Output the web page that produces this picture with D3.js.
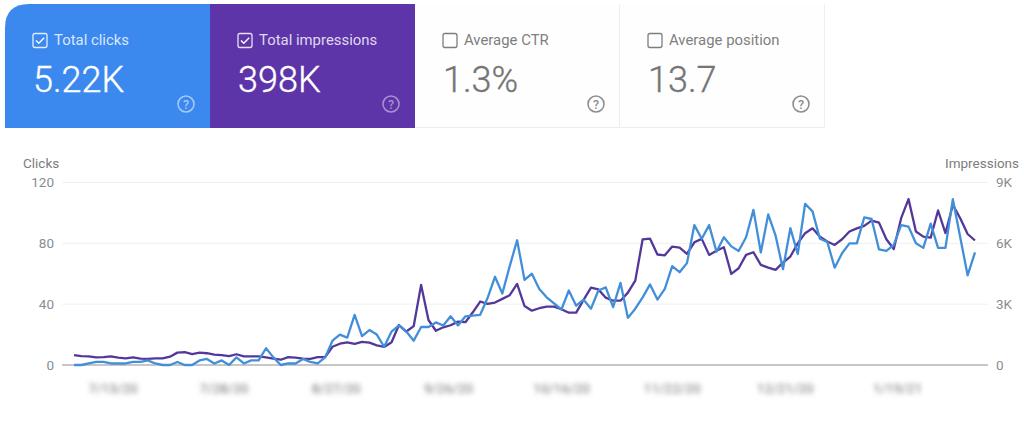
<!DOCTYPE html>
<html><head><meta charset="utf-8">
<script src="https://cdn.jsdelivr.net/npm/d3@7"></script>
<style>
html,body{margin:0;padding:0;background:#fff;overflow:hidden}
svg{display:block;font-family:Roboto,sans-serif}
</style></head><body><svg id="c" width="1024" height="434"></svg>
<script>
const cardTitles = ["Total clicks","Total impressions","Average CTR","Average position"];
const cardValues = ["5.22K","398K","1.3%","13.7"];
const cardChecked = [true,true,false,false];
const cardFills = ["#3b88ee","#5e35a8","#fefefe","#fefefe"];
const clicksTicks = [0,40,80,120];
const imprTicks = [0,3000,6000,9000];
const imprTickLabels = ["0","3K","6K","9K"];
const dateLabels = ["7/13/20","7/28/20","8/27/20","9/26/20","10/16/20","11/22/20","12/21/20","1/19/21"];
const datePositions = [5.3,20.3,35.5,50.7,66,81,96.3,111.5];
const clicks = [0,0,1,2,2,1,1,1,2,2,3,1,0,0,2,0,0,3,4,1,3,0,5,1,3,3,11,5,0,1,1,4,2,1,5,16,20,18,33,19,23,20,12,22,26,22,16,25,25,28,26,32,26,32,32.5,33,44,58,47,65,82,56,60,50,44.5,40.5,36.5,49,39,43,37,49,51,38,54,31,37,44.5,53,43,50,65,61,67,92,83,92,74.5,84,78,75,84,102,74,99,85,63,90,73,106,101,83,81,64,73.5,80,80,97,96,76,75,79,92,91,80,77,93,77,77,109,84,59,74];
const impressions = [490,440,430,380,390,430,360,330,380,310,300,330,330,410,610,630,540,610,580,510,490,440,530,430,430,430,380,310,260,390,360,310,300,390,390,900,1050,1120,1040,1140,1100,970,890,1120,1970,1650,1920,3950,2220,1690,1860,1960,2140,2110,2600,3130,3010,3080,3260,3440,4000,2910,2680,2800,2880,2880,2750,2580,2580,3210,3820,3730,3320,3170,3170,3570,4160,6200,6230,5450,5410,5840,5790,5480,6050,6220,5430,5630,5810,4490,4770,5430,5560,4940,4800,4690,5050,5350,6000,6500,6740,6330,6090,5920,6200,6580,6740,6860,7120,7020,6200,5720,7240,8180,6580,6330,6280,7620,6500,7900,7240,6460,6140];

const svg = d3.select("#c");
const defs = svg.append("defs");
defs.append("filter").attr("id","blur").attr("x","-20%").attr("y","-60%").attr("width","140%").attr("height","220%")
  .append("feGaussianBlur").attr("stdDeviation",2.6);
defs.append("filter").attr("id","soft").append("feGaussianBlur").attr("stdDeviation",0.4);

/* cards */
const cardX = d3.scaleBand().domain(d3.range(4)).range([5,825]);
const cardTop = 4, cardBottom = 128;
const cards = svg.selectAll("g.card").data(cardTitles).join("g").attr("class","card")
  .attr("transform",(d,i)=>`translate(${cardX(i)},${cardTop})`);
const w = cardX.bandwidth(), h = cardBottom-cardTop;
cards.append("path").attr("fill",(d,i)=>cardFills[i])
  .attr("d",(d,i)=> i===0 ? `M0,${h}V24Q0,0 24,0H${w}V${h}Z` : `M0,0H${w}V${h}H0Z`);
cards.filter((d,i)=>i>=2).append("path").attr("fill","none").attr("stroke","#eeeeee")
  .attr("d",`M${w-.5},0V${h-.5}H0`);
const fg = i=> cardChecked[i] ? "#fff" : "#757575";
cards.append("rect").attr("x",28).attr("y",29.5).attr("width",14).attr("height",14).attr("rx",2)
  .attr("fill","none").attr("stroke",(d,i)=>cardChecked[i]?"rgba(255,255,255,.85)":"#7d7d7d").attr("stroke-width",1.3);
cards.filter((d,i)=>cardChecked[i]).append("path").attr("d","M31,36.5l2.8,2.8l5.4,-5.6")
  .attr("fill","none").attr("stroke","#fff").attr("stroke-width",1.4);
cards.append("text").attr("x",49).attr("y",41).attr("font-size",14.9)
  .attr("fill",(d,i)=>cardChecked[i]?"rgba(255,255,255,.82)":"#808080").text(d=>d);
cards.append("text").attr("x",28).attr("y",88).attr("font-size",36).attr("font-weight",300)
  .attr("stroke",(d,i)=>fg(i)).attr("stroke-width",0.35)
  .attr("fill",(d,i)=>fg(i)).text((d,i)=>cardValues[i]);
cards.each(function(d,i){
  const g = d3.select(this).append("g").attr("transform","translate(181,100)");
  const col = i===0?"rgba(255,255,255,.55)":i===1?"rgba(255,255,255,.45)":"#8f8f8f";
  g.append("circle").attr("r",8).attr("fill","none").attr("stroke",col).attr("stroke-width",1.6);
  g.append("text").attr("text-anchor","middle").attr("y",4.5).attr("font-size",12.5).attr("font-weight",500).attr("fill",col).text("?");
});

/* chart */
const x = d3.scaleLinear().domain([0,clicks.length-1]).range([74,975]);
const yL = d3.scaleLinear().domain([0,120]).range([365,182.5]);
const yR = d3.scaleLinear().domain([0,9000]).range([365,182.5]);
const gridL = 62, gridR = 988;

const axisL = svg.append("g").attr("transform",`translate(${gridL},0)`)
  .call(d3.axisLeft(yL).tickValues(clicksTicks).tickSize(0).tickPadding(8));
const axisR = svg.append("g").attr("transform",`translate(${gridR},0)`)
  .call(d3.axisRight(yR).tickValues(imprTicks).tickFormat((d,i)=>imprTickLabels[i]).tickSize(0).tickPadding(8));
[axisL,axisR].forEach(a=>{
  a.select(".domain").remove();
  a.selectAll("text").attr("font-family","Roboto,sans-serif").attr("font-size",13.5).attr("fill","#8a8d90");
});
svg.append("g").selectAll("line").data(clicksTicks).join("line")
  .attr("x1",gridL).attr("x2",gridR).attr("y1",d=>yL(d)).attr("y2",d=>yL(d))
  .attr("stroke",d=>d===0?"#b4b4b4":"#f0f0f0").attr("stroke-width",d=>d===0?1.6:1);

const lineClicks = d3.line().x((d,i)=>x(i)).y(d=>yL(d));
const lineImpr = d3.line().x((d,i)=>x(i)).y(d=>yR(d));
const lines = svg.append("g").attr("filter","url(#soft)").attr("fill","none").attr("stroke-width",2.3).attr("stroke-linejoin","round");
lines.append("path").attr("d",lineImpr(impressions)).attr("stroke","#53389a");
lines.append("path").attr("d",lineClicks(clicks)).attr("stroke","#438fd9");

svg.append("text").attr("x",23).attr("y",168).attr("font-size",13.5).attr("fill","#7d7d7d").text("Clicks");
svg.append("text").attr("x",945).attr("y",168).attr("font-size",13.5).attr("fill","#7d7d7d").text("Impressions");

svg.append("g").attr("filter","url(#blur)").selectAll("text").data(dateLabels).join("text")
  .attr("x",(d,i)=>x(datePositions[i])).attr("y",393).attr("text-anchor","middle")
  .attr("font-size",13.5).attr("fill","#6f6f6f").text(d=>d);
</script></body></html>
